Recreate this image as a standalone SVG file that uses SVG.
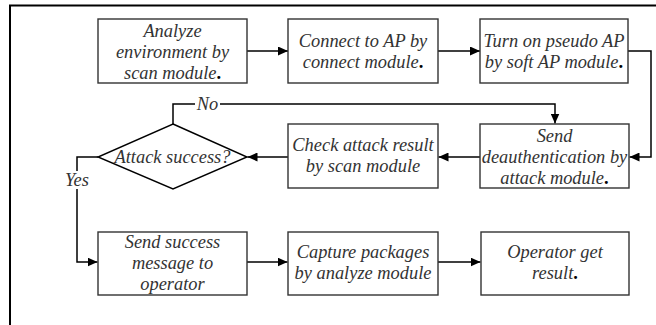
<svg xmlns="http://www.w3.org/2000/svg" width="656" height="325" viewBox="0 0 656 325">
  <style>
    .box { fill: #fff; stroke: #333; stroke-width: 1.4; }
    .line { fill: none; stroke: #000; stroke-width: 1.5; }
    .lbl { font-family: "Liberation Serif", "Times New Roman", serif; font-style: italic; font-size: 18.4px; fill: #333; text-anchor: middle; }
    .dot { fill: #000; font-style: normal; font-weight: bold; }
  </style>
  <defs>
    <marker id="arrow" markerUnits="userSpaceOnUse" markerWidth="11" markerHeight="9" refX="10" refY="4.5" orient="auto">
      <path d="M0,0 L10,4.5 L0,9 Z" fill="#000"/>
    </marker>
  </defs>

  <rect width="656" height="325" fill="#fff"/>
  <!-- outer frame: only the top and left edges fall inside the page -->
  <path d="M10,330 V5.5 H660" fill="none" stroke="#000" stroke-width="2"/>

  <g id="connectors">
    <path class="line" d="M247,51 H288" marker-end="url(#arrow)"/>
    <path class="line" d="M438,51 H480" marker-end="url(#arrow)"/>
    <path class="line" d="M628,51 H651 V157 H629.5" marker-end="url(#arrow)"/>
    <path class="line" d="M480,157 H438.5" marker-end="url(#arrow)"/>
    <path class="line" d="M288,157 H247.5" marker-end="url(#arrow)"/>
    <path class="line" d="M173,124 V104 H555 V123.5" marker-end="url(#arrow)"/>
    <path class="line" d="M98,157 H77 V262 H97.5" marker-end="url(#arrow)"/>
    <path class="line" d="M247,262 H287.5" marker-end="url(#arrow)"/>
    <path class="line" d="M438,262 H480.5" marker-end="url(#arrow)"/>
    <g id="label-no">
      <rect x="195" y="96" width="25" height="16" fill="#fff"/>
      <text class="lbl" x="207.5" y="109.5">No</text>
    </g>
    <g id="label-yes">
      <rect x="63" y="171" width="28" height="18" fill="#fff"/>
      <text class="lbl" x="77" y="186">Yes</text>
    </g>
  </g>

  <g id="analyze">
    <rect class="box" x="98" y="19" width="149" height="64"/>
    <text class="lbl" x="172.5" y="36.5">Analyze</text>
    <text class="lbl" x="172.5" y="57.5">environment by</text>
    <text class="lbl" x="172.5" y="78.5">scan module<tspan class="dot">.</tspan></text>
  </g>

  <g id="connect">
    <rect class="box" x="288" y="19" width="150" height="64"/>
    <text class="lbl" x="363" y="47">Connect to AP by</text>
    <text class="lbl" x="363" y="68">connect module<tspan class="dot">.</tspan></text>
  </g>

  <g id="softap">
    <rect class="box" x="480" y="19" width="148" height="64"/>
    <text class="lbl" x="554" y="47">Turn on pseudo AP</text>
    <text class="lbl" x="554" y="68">by soft AP module<tspan class="dot">.</tspan></text>
  </g>

  <g id="deauth">
    <rect class="box" x="480" y="124" width="149" height="64"/>
    <text class="lbl" x="554.5" y="141.5">Send</text>
    <text class="lbl" x="554.5" y="162.5">deauthentication by</text>
    <text class="lbl" x="554.5" y="183.5">attack module<tspan class="dot">.</tspan></text>
  </g>

  <g id="check">
    <rect class="box" x="288" y="124" width="150" height="64"/>
    <text class="lbl" x="363" y="151">Check attack result</text>
    <text class="lbl" x="363" y="172">by scan module</text>
  </g>

  <g id="decision">
    <polygon points="173,124 247,157 173,189 98,157" fill="#fff" stroke="#000" stroke-width="1.4"/>
    <text class="lbl" x="172.5" y="163">Attack success?</text>
  </g>

  <g id="notify">
    <rect class="box" x="98" y="232" width="149" height="63"/>
    <text class="lbl" x="172.5" y="248">Send success</text>
    <text class="lbl" x="172.5" y="269">message to</text>
    <text class="lbl" x="172.5" y="290">operator</text>
  </g>

  <g id="capture">
    <rect class="box" x="288" y="232" width="150" height="63"/>
    <text class="lbl" x="363" y="257.5">Capture packages</text>
    <text class="lbl" x="363" y="278.5">by analyze module</text>
  </g>

  <g id="result">
    <rect class="box" x="481" y="232" width="148" height="63"/>
    <text class="lbl" x="555" y="257.5">Operator get</text>
    <text class="lbl" x="555" y="278.5">result<tspan class="dot">.</tspan></text>
  </g>
</svg>
